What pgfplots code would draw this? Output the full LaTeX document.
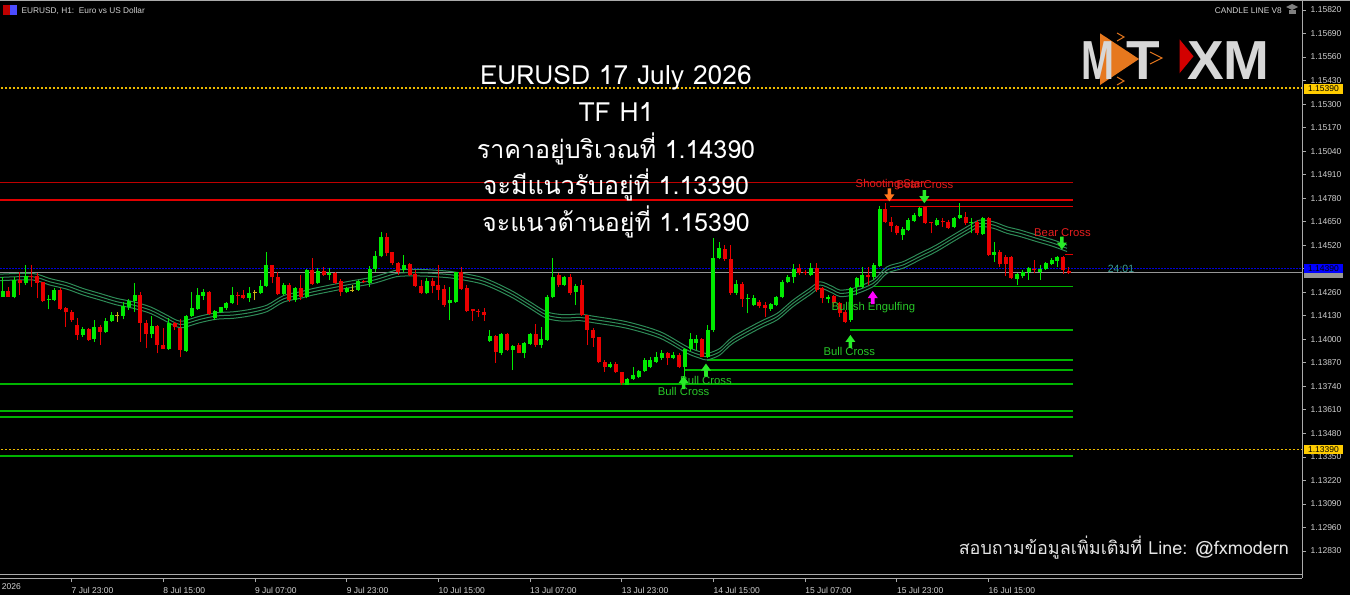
\documentclass[border=0pt]{standalone}
\usepackage{fontspec}
\setmainfont{Liberation Sans}
\newfontfamily\thaifont[Script=Thai]{Loma}
\usepackage{pgfplots}
\usepackage{pgfplotstable}
\pgfplotsset{compat=1.18}

\definecolor{bull}{RGB}{0,235,0}
\definecolor{bear}{RGB}{235,0,0}
\definecolor{doji}{RGB}{205,180,20}
\definecolor{ribbon}{RGB}{46,139,87}
\definecolor{lvlgreen}{RGB}{0,180,0}
\definecolor{lvlred}{RGB}{225,0,0}
\definecolor{lvlred2}{RGB}{190,0,0}
\definecolor{dotyel}{RGB}{235,185,0}
\definecolor{dotblue}{RGB}{0,0,220}
\definecolor{bidgray}{RGB}{150,150,150}
\definecolor{axisgray}{RGB}{170,170,170}
\definecolor{labelgray}{RGB}{210,210,210}
\definecolor{sigtxtgreen}{RGB}{40,200,40}
\definecolor{sigtxtred}{RGB}{230,30,30}
\definecolor{sigarrow}{RGB}{40,235,40}
\definecolor{sigorange}{RGB}{255,120,30}
\definecolor{sigmagenta}{RGB}{255,0,255}
\definecolor{boxyel}{RGB}{255,204,0}
\definecolor{boxblue}{RGB}{0,0,255}
\definecolor{logogray}{RGB}{215,215,215}
\definecolor{logoorange}{RGB}{230,120,30}
\definecolor{logored}{RGB}{210,0,0}
\definecolor{timer}{RGB}{60,160,150}

\newcommand{\tickfont}{\fontsize{8.5}{9}\selectfont}

% signal arrows
\pgfdeclareplotmark{dnarrow}{%
  \pgfpathmoveto{\pgfqpoint{-1.8pt}{6.5pt}}%
  \pgfpathlineto{\pgfqpoint{1.8pt}{6.5pt}}%
  \pgfpathlineto{\pgfqpoint{1.8pt}{0.5pt}}%
  \pgfpathlineto{\pgfqpoint{5pt}{0.5pt}}%
  \pgfpathlineto{\pgfqpoint{0pt}{-6.5pt}}%
  \pgfpathlineto{\pgfqpoint{-5pt}{0.5pt}}%
  \pgfpathlineto{\pgfqpoint{-1.8pt}{0.5pt}}%
  \pgfpathclose
  \pgfusepathqfill}
\pgfdeclareplotmark{uparrow}{%
  \pgfpathmoveto{\pgfqpoint{-1.8pt}{-6.5pt}}%
  \pgfpathlineto{\pgfqpoint{1.8pt}{-6.5pt}}%
  \pgfpathlineto{\pgfqpoint{1.8pt}{-0.5pt}}%
  \pgfpathlineto{\pgfqpoint{5pt}{-0.5pt}}%
  \pgfpathlineto{\pgfqpoint{0pt}{6.5pt}}%
  \pgfpathlineto{\pgfqpoint{-5pt}{-0.5pt}}%
  \pgfpathlineto{\pgfqpoint{-1.8pt}{-0.5pt}}%
  \pgfpathclose
  \pgfusepathqfill}

% EURUSD H1 candles: bar index, low, body low, body high, high
\pgfplotstableread{
k lo bl bh hi
-12 1.14236 1.14236 1.14267 1.14346
-10 1.14226 1.14236 1.14328 1.14346
-8 1.14300 1.14309 1.14352 1.14411
-4 1.14166 1.14217 1.14223 1.14245
-3 1.14214 1.14217 1.14272 1.14282
2 1.14015 1.14024 1.14057 1.14070
4 1.13987 1.14000 1.14070 1.14107
6 1.14037 1.14042 1.14103 1.14116
7 1.14097 1.14103 1.14134 1.14153
9 1.14110 1.14129 1.14184 1.14208
10 1.14162 1.14180 1.14212 1.14221
11 1.14153 1.14212 1.14245 1.14309
14 1.14005 1.14029 1.14074 1.14131
17 1.13941 1.13946 1.14092 1.14116
20 1.13932 1.13937 1.14129 1.14134
21 1.14125 1.14129 1.14171 1.14263
22 1.14162 1.14167 1.14245 1.14282
23 1.14217 1.14241 1.14263 1.14276
25 1.14107 1.14116 1.14156 1.14162
26 1.14147 1.14153 1.14177 1.14180
27 1.14162 1.14171 1.14199 1.14208
28 1.14195 1.14199 1.14245 1.14291
31 1.14208 1.14226 1.14254 1.14291
33 1.14250 1.14254 1.14295 1.14328
34 1.14291 1.14295 1.14411 1.14481
37 1.14245 1.14250 1.14300 1.14309
39 1.14208 1.14217 1.14281 1.14291
41 1.14226 1.14232 1.14383 1.14386
43 1.14305 1.14313 1.14379 1.14392
45 1.14327 1.14355 1.14364 1.14392
48 1.14257 1.14263 1.14281 1.14291
50 1.14268 1.14272 1.14322 1.14327
52 1.14291 1.14309 1.14386 1.14405
53 1.14374 1.14386 1.14460 1.14488
54 1.14453 1.14460 1.14567 1.14595
58 1.14374 1.14383 1.14410 1.14466
62 1.14250 1.14254 1.14322 1.14337
66 1.14106 1.14198 1.14217 1.14291
67 1.14202 1.14208 1.14370 1.14374
73 1.13987 1.13992 1.14018 1.14051
75 1.13913 1.13926 1.14029 1.14033
77 1.13830 1.13941 1.13963 1.13968
79 1.13895 1.13926 1.13977 1.13987
80 1.13968 1.13974 1.14029 1.14036
82 1.13950 1.13968 1.13999 1.14066
83 1.13992 1.13996 1.14235 1.14245
84 1.14226 1.14232 1.14346 1.14447
86 1.14294 1.14300 1.14342 1.14350
88 1.14189 1.14263 1.14296 1.14305
94 1.13839 1.13849 1.13863 1.13876
97 1.13747 1.13747 1.13779 1.13784
98 1.13775 1.13779 1.13803 1.13849
99 1.13784 1.13793 1.13826 1.13830
100 1.13821 1.13826 1.13885 1.13895
101 1.13839 1.13849 1.13885 1.13904
102 1.13871 1.13876 1.13900 1.13931
103 1.13885 1.13898 1.13926 1.13941
105 1.13889 1.13898 1.13913 1.13931
107 1.13793 1.13849 1.13944 1.13950
108 1.13937 1.13944 1.13999 1.14033
109 1.13941 1.13981 1.13999 1.14024
111 1.13895 1.13904 1.14051 1.14079
112 1.14042 1.14051 1.14447 1.14558
113 1.14442 1.14447 1.14502 1.14539
116 1.14245 1.14257 1.14305 1.14327
118 1.14143 1.14221 1.14226 1.14250
119 1.14184 1.14189 1.14226 1.14245
122 1.14158 1.14165 1.14195 1.14202
123 1.14184 1.14189 1.14232 1.14239
124 1.14226 1.14232 1.14318 1.14327
125 1.14309 1.14318 1.14346 1.14355
126 1.14309 1.14346 1.14386 1.14416
129 1.14350 1.14355 1.14392 1.14420
132 1.14199 1.14221 1.14235 1.14245
136 1.14098 1.14107 1.14282 1.14291
137 1.14245 1.14291 1.14337 1.14347
138 1.14282 1.14291 1.14356 1.14402
140 1.14328 1.14347 1.14411 1.14420
141 1.14402 1.14406 1.14719 1.14737
145 1.14549 1.14577 1.14608 1.14619
146 1.14601 1.14604 1.14660 1.14669
147 1.14651 1.14656 1.14687 1.14697
148 1.14678 1.14684 1.14724 1.14733
151 1.14627 1.14632 1.14660 1.14669
154 1.14614 1.14619 1.14673 1.14678
155 1.14663 1.14673 1.14687 1.14752
157 1.14586 1.14641 1.14651 1.14669
159 1.14577 1.14582 1.14673 1.14678
161 1.14429 1.14466 1.14485 1.14540
165 1.14301 1.14332 1.14361 1.14365
166 1.14337 1.14350 1.14374 1.14383
167 1.14328 1.14374 1.14393 1.14402
169 1.14328 1.14374 1.14391 1.14411
170 1.14383 1.14387 1.14420 1.14429
171 1.14411 1.14417 1.14439 1.14448
172 1.14402 1.14435 1.14453 1.14461
}\greens

\pgfplotstableread{
k lo bl bh hi
-11 1.14236 1.14236 1.14267 1.14291
-9 1.14245 1.14309 1.14328 1.14374
-7 1.14291 1.14346 1.14352 1.14411
-6 1.14226 1.14313 1.14352 1.14364
-5 1.14208 1.14214 1.14319 1.14319
-2 1.14162 1.14166 1.14272 1.14282
-1 1.14070 1.14149 1.14171 1.14180
0 1.14097 1.14107 1.14153 1.14162
1 1.13996 1.14024 1.14079 1.14116
3 1.13991 1.13996 1.14057 1.14064
5 1.13969 1.14042 1.14070 1.14079
12 1.13987 1.14092 1.14245 1.14263
13 1.13950 1.14029 1.14092 1.14107
15 1.13922 1.13969 1.14074 1.14079
16 1.13946 1.13946 1.13969 1.14061
18 1.14051 1.14066 1.14088 1.14097
19 1.13900 1.13941 1.14064 1.14110
24 1.14134 1.14140 1.14263 1.14267
29 1.14190 1.14241 1.14245 1.14263
30 1.14221 1.14226 1.14245 1.14272
35 1.14309 1.14342 1.14411 1.14411
36 1.14245 1.14250 1.14342 1.14374
38 1.14208 1.14217 1.14300 1.14309
40 1.14217 1.14235 1.14281 1.14355
42 1.14300 1.14305 1.14383 1.14447
44 1.14350 1.14355 1.14379 1.14401
46 1.14305 1.14313 1.14364 1.14374
47 1.14239 1.14263 1.14322 1.14331
51 1.14309 1.14316 1.14322 1.14327
55 1.14460 1.14475 1.14567 1.14585
56 1.14410 1.14420 1.14480 1.14484
57 1.14355 1.14374 1.14420 1.14429
59 1.14350 1.14355 1.14414 1.14420
60 1.14291 1.14294 1.14361 1.14383
61 1.14250 1.14254 1.14294 1.14327
63 1.14254 1.14294 1.14322 1.14337
64 1.14217 1.14272 1.14300 1.14410
65 1.14180 1.14189 1.14278 1.14300
68 1.14272 1.14278 1.14370 1.14401
69 1.14152 1.14158 1.14285 1.14300
70 1.14103 1.14154 1.14165 1.14165
71 1.14125 1.14151 1.14158 1.14165
72 1.14103 1.14134 1.14149 1.14171
74 1.13871 1.13931 1.14018 1.14024
76 1.13937 1.13941 1.14029 1.14033
78 1.13922 1.13926 1.13968 1.13977
81 1.13959 1.13968 1.14029 1.14082
85 1.14291 1.14300 1.14355 1.14364
87 1.14245 1.14254 1.14346 1.14361
89 1.14130 1.14134 1.14300 1.14327
90 1.13968 1.14051 1.14134 1.14134
91 1.13959 1.14005 1.14051 1.14060
92 1.13867 1.13876 1.14011 1.14014
93 1.13821 1.13849 1.13876 1.13885
95 1.13815 1.13821 1.13863 1.13876
96 1.13747 1.13756 1.13821 1.13821
104 1.13858 1.13895 1.13926 1.13931
106 1.13839 1.13849 1.13913 1.13922
110 1.13900 1.13904 1.13999 1.14005
114 1.14434 1.14442 1.14497 1.14521
115 1.14245 1.14257 1.14442 1.14521
117 1.14180 1.14221 1.14305 1.14318
120 1.14171 1.14184 1.14208 1.14217
121 1.14125 1.14171 1.14189 1.14208
127 1.14355 1.14364 1.14392 1.14416
128 1.14355 1.14364 1.14374 1.14383
130 1.14263 1.14272 1.14392 1.14423
131 1.14199 1.14226 1.14281 1.14291
133 1.14181 1.14199 1.14240 1.14245
134 1.14126 1.14144 1.14199 1.14208
135 1.14089 1.14098 1.14153 1.14162
139 1.14301 1.14343 1.14356 1.14402
142 1.14645 1.14651 1.14719 1.14752
143 1.14595 1.14627 1.14651 1.14678
144 1.14577 1.14586 1.14627 1.14632
149 1.14638 1.14641 1.14730 1.14737
150 1.14586 1.14641 1.14647 1.14651
152 1.14623 1.14647 1.14656 1.14669
153 1.14610 1.14614 1.14651 1.14660
156 1.14632 1.14641 1.14678 1.14706
158 1.14577 1.14586 1.14651 1.14660
160 1.14461 1.14466 1.14673 1.14678
162 1.14402 1.14417 1.14485 1.14494
163 1.14350 1.14417 1.14453 1.14466
164 1.14334 1.14337 1.14453 1.14461
168 1.14365 1.14383 1.14387 1.14439
173 1.14361 1.14383 1.14457 1.14461
174 1.14361 1.14369 1.14380 1.14402
}\reds

\pgfplotstableread{
k lo bl bh hi
8 1.14097 1.14133 1.14137 1.14149
32 1.14217 1.14258 1.14262 1.14272
49 1.14263 1.14271 1.14275 1.14300
}\dojis

% moving average ribbon: upper, middle, lower
\pgfplotstableread{
k u m l
-12.5 1.14360 1.14342 1.14324
-6.8 1.14364 1.14346 1.14328
-3.8 1.14336 1.14318 1.14300
-0.8 1.14313 1.14295 1.14277
2.0 1.14281 1.14263 1.14245
4.9 1.14254 1.14236 1.14218
7.9 1.14226 1.14208 1.14190
10.7 1.14208 1.14190 1.14172
13.7 1.14180 1.14162 1.14144
16.6 1.14134 1.14116 1.14098
18.3 1.14106 1.14088 1.14070
19.5 1.14101 1.14083 1.14065
22.4 1.14128 1.14110 1.14092
25.3 1.14147 1.14129 1.14111
28.2 1.14152 1.14134 1.14116
31.1 1.14165 1.14147 1.14129
34.1 1.14189 1.14171 1.14153
37.0 1.14242 1.14224 1.14206
40.0 1.14263 1.14245 1.14227
42.2 1.14281 1.14263 1.14245
48.0 1.14318 1.14300 1.14282
52.7 1.14345 1.14327 1.14309
56.7 1.14382 1.14364 1.14346
59.7 1.14386 1.14368 1.14350
62.5 1.14384 1.14366 1.14348
66.6 1.14373 1.14355 1.14337
71.3 1.14345 1.14327 1.14309
74.2 1.14309 1.14291 1.14273
77.1 1.14263 1.14245 1.14227
80.0 1.14207 1.14189 1.14171
82.9 1.14152 1.14134 1.14116
85.8 1.14136 1.14118 1.14100
88.7 1.14139 1.14121 1.14103
91.0 1.14128 1.14110 1.14092
96.9 1.14097 1.14079 1.14061
102.7 1.14042 1.14024 1.14006
107.4 1.13959 1.13941 1.13923
109.7 1.13931 1.13913 1.13895
110.9 1.13922 1.13904 1.13886
113.1 1.13949 1.13931 1.13913
115.4 1.14014 1.13996 1.13978
120.1 1.14097 1.14079 1.14061
123.1 1.14143 1.14125 1.14107
125.9 1.14217 1.14199 1.14181
128.8 1.14281 1.14263 1.14245
130.6 1.14318 1.14300 1.14282
132.9 1.14290 1.14272 1.14254
134.1 1.14272 1.14254 1.14236
136.4 1.14282 1.14264 1.14246
139.9 1.14328 1.14310 1.14292
142.3 1.14401 1.14383 1.14365
145.1 1.14429 1.14411 1.14393
148.0 1.14475 1.14457 1.14439
150.9 1.14521 1.14503 1.14485
153.8 1.14576 1.14558 1.14540
156.8 1.14632 1.14614 1.14596
158.5 1.14659 1.14641 1.14623
160.8 1.14650 1.14632 1.14614
163.2 1.14622 1.14604 1.14586
165.5 1.14604 1.14586 1.14568
168.4 1.14576 1.14558 1.14540
171.3 1.14549 1.14531 1.14513
173.7 1.14521 1.14503 1.14485
}\ribbon

% wicks and bodies of one colour
\newcommand{\candles}[2]{%
  \addplot[draw=none, mark=none, forget plot,
    error bars/.cd, y dir=plus, y explicit, error mark=none,
    error bar style={draw=#2, line width=1pt}]
    table[x=k, y=lo, y error plus expr=\thisrow{hi}-\thisrow{lo}] {#1};
  \addplot[draw=none, mark=none, forget plot,
    error bars/.cd, y dir=plus, y explicit, error mark=none,
    error bar style={draw=#2, line width=4pt}]
    table[x=k, y=bl, y error plus expr=\thisrow{bh}-\thisrow{bl}] {#1};
}

\begin{document}
\begin{tikzpicture}
\fill[black] (0pt,0pt) rectangle (1350pt,595pt);
\useasboundingbox (0pt,0pt) rectangle (1350pt,595pt);

\begin{axis}[
  at={(0pt,17pt)}, anchor=south west,
  scale only axis, width=1302pt, height=578pt,
  xmin=-12.48, xmax=214.7,
  ymin=1.126808, ymax=1.158753,
  enlargelimits=false,
  axis x line=bottom, axis y line=right,
  axis line style={draw=axisgray, line width=1pt, -},
  tick align=outside, major tick length=4pt,
  tick style={draw=axisgray, line width=0.8pt},
  minor tick num=0,
  xtick={0,16,32,48,64,80,96,112,128,144,160},
  xticklabels={7 Jul 23:00, 8 Jul 15:00, 9 Jul 07:00, 9 Jul 23:00, 10 Jul 15:00,
    13 Jul 07:00, 13 Jul 23:00, 14 Jul 15:00, 15 Jul 07:00, 15 Jul 23:00, 16 Jul 15:00},
  ytick={1.1283,1.1296,1.1309,1.1322,1.1335,1.1348,1.1361,1.1374,1.1387,1.1400,1.1413,1.1426,
    1.1439,1.1452,1.1465,1.1478,1.1491,1.1504,1.1517,1.1530,1.1543,1.1556,1.1569,1.1582},
  yticklabels={1.12830,1.12960,1.13090,1.13220,1.13350,1.13480,1.13610,1.13740,1.13870,1.14000,
    1.14130,1.14260,1.14390,1.14520,1.14650,1.14780,1.14910,1.15040,1.15170,1.15300,1.15430,
    1.15560,1.15690,1.15820},
  scaled y ticks=false,
  xticklabel style={anchor=north west, inner sep=0pt, font=\tickfont, text=labelgray},
  yticklabel style={anchor=west, inner sep=0pt, font=\tickfont, text=labelgray},
  xticklabel shift=5pt, yticklabel shift=4.5pt,
]

% levels
\addplot[dotyel, line width=1.4pt, dash pattern=on 2pt off 2pt] coordinates {(-13,1.15390) (216,1.15390)};
\addplot[dotyel, line width=1.4pt, dash pattern=on 2pt off 2pt] coordinates {(-13,1.13390) (216,1.13390)};
\addplot[bidgray, line width=1pt] coordinates {(-13,1.14368) (216,1.14368)};
\addplot[dotblue, line width=1pt, dash pattern=on 1.5pt off 1.5pt] coordinates {(-13,1.14390) (216,1.14390)};

\addplot[lvlred2, line width=1pt] coordinates {(-13,1.14864) (174.8,1.14864)};
\addplot[lvlred, line width=1.3pt] coordinates {(-13,1.14770) (174.8,1.14770)};
\addplot[lvlred, line width=1.3pt] coordinates {(142.8,1.14733) (174.8,1.14733)};
\addplot[lvlred, line width=1.3pt] coordinates {(173.4,1.14470) (174.8,1.14470)};

\addplot[lvlgreen, line width=1.3pt] coordinates {(140,1.14291) (174.8,1.14291)};
\addplot[lvlgreen, line width=1.3pt] coordinates {(135.8,1.14051) (174.8,1.14051)};
\addplot[lvlgreen, line width=1.3pt] coordinates {(110.8,1.13886) (174.8,1.13886)};
\addplot[lvlgreen, line width=1.3pt] coordinates {(107,1.13830) (174.8,1.13830)};
\addplot[lvlgreen, line width=1.3pt] coordinates {(-13,1.13753) (174.8,1.13753)};
\addplot[lvlgreen, line width=1.3pt] coordinates {(-13,1.13604) (174.8,1.13604)};
\addplot[lvlgreen, line width=1.3pt] coordinates {(-13,1.13571) (174.8,1.13571)};
\addplot[lvlgreen, line width=1.3pt] coordinates {(-13,1.13355) (174.8,1.13355)};

% ribbon
\addplot[ribbon, line width=1pt, smooth] table[x=k, y=u] {\ribbon};
\addplot[ribbon, line width=1pt, smooth] table[x=k, y=m] {\ribbon};
\addplot[ribbon, line width=1pt, smooth] table[x=k, y=l] {\ribbon};

% candles
\candles{\greens}{bull}
\candles{\reds}{bear}
\candles{\dojis}{doji}

% signals
\addplot[only marks, mark=dnarrow, mark options={fill=sigorange, draw=none}] coordinates {(142.7,1.14798)};
\addplot[only marks, mark=dnarrow, mark options={fill=sigarrow, draw=none}] coordinates {(148.8,1.14788) (172.8,1.14532)};
\addplot[only marks, mark=uparrow, mark options={fill=sigmagenta, draw=none}] coordinates {(139.8,1.14231)};
\addplot[only marks, mark=uparrow, mark options={fill=sigarrow, draw=none}] coordinates {(135.9,1.13988) (110.7,1.13830) (106.8,1.13761)};

\begin{scope}[every node/.style={inner sep=0pt, font=\fontsize{11.3}{12}\selectfont}]
\node[text=sigtxtred] at (axis cs:142.8,1.14853) {Shooting Star};
\node[text=sigtxtred] at (axis cs:148.9,1.14853) {Bear Cross};
\node[text=sigtxtred] at (axis cs:172.9,1.14588) {Bear Cross};
\node[text=sigtxtgreen] at (axis cs:139.9,1.14177) {Bullish Engulfing};
\node[text=sigtxtgreen] at (axis cs:135.7,1.13935) {Bull Cross};
\node[text=sigtxtgreen] at (axis cs:110.7,1.13775) {Bull Cross};
\node[text=sigtxtgreen] at (axis cs:106.8,1.13714) {Bull Cross};
\end{scope}
\end{axis}

% window frame bits
\draw[axisgray, line width=1pt] (0pt,594.5pt) -- (1350pt,594.5pt);
\draw[axisgray, line width=1pt] (0pt,21pt) -- (1302pt,21pt);
\node[anchor=north east, inner sep=0pt, font=\tickfont, text=labelgray] at (21pt,12pt) {7 Jul 2026};

% price boxes
\fill[boxyel] (1304pt,501.3pt) rectangle (1343pt,510.7pt);
\node[inner sep=0pt, font=\tickfont, text=black] at (1323.5pt,506pt) {1.15390};
\fill[bidgray] (1304pt,317pt) rectangle (1343pt,322.5pt);
\fill[boxblue] (1304pt,322.3pt) rectangle (1343pt,331pt);
\node[inner sep=0pt, font=\tickfont, text=black] at (1323.5pt,326.6pt) {1.14390};
\fill[boxyel] (1304pt,141pt) rectangle (1343pt,150.3pt);
\node[inner sep=0pt, font=\tickfont, text=black] at (1323.5pt,145.6pt) {1.13390};
\node[inner sep=0pt, font=\fontsize{10.5}{11}\selectfont, text=timer] at (1121pt,326pt) {24:01};

% header
\fill[red!75!black] (3pt,580pt) rectangle (10pt,590pt);
\fill[blue!70!white] (10pt,580pt) rectangle (17pt,590pt);
\node[anchor=west, inner sep=0pt, font=\fontsize{8.3}{9}\selectfont, text=labelgray] at (21.5pt,584.3pt) {EURUSD, H1:\ \ Euro vs US Dollar};
\node[anchor=east, inner sep=0pt, font=\fontsize{8.3}{9}\selectfont, text=labelgray] at (1282pt,584.3pt) {CANDLE LINE V8};
\fill[gray] (1286pt,588pt) -- (1292pt,591pt) -- (1298pt,588pt) -- (1292pt,585pt) -- cycle;
\fill[gray] (1288.5pt,585pt) rectangle (1295.5pt,581pt);

% logo
\fill[logoorange] (1100pt,561.7pt) -- (1139pt,536pt) -- (1100pt,510pt) -- cycle;
\draw[logoorange, line width=1pt] (1117pt,562pt) -- (1124pt,558pt) -- (1117pt,554pt);
\draw[logoorange, line width=1pt] (1150pt,543pt) -- (1162pt,537pt) -- (1150pt,531pt);
\draw[logoorange, line width=1pt] (1117pt,518pt) -- (1124pt,514pt) -- (1117pt,510pt);
\node[anchor=south west, inner sep=0pt, font=\fontsize{55}{55}\selectfont\bfseries, text=logogray] at (1081pt,515pt) {\scalebox{0.72}[1]{M}};
\node[anchor=south west, inner sep=0pt, font=\fontsize{55}{55}\selectfont\bfseries, text=logogray] at (1126pt,515pt) {T};
\fill[logored] (1179.5pt,555.7pt) -- (1193.5pt,538.7pt) -- (1179.5pt,521.7pt) -- cycle;
\node[anchor=south west, inner sep=0pt, font=\fontsize{55}{55}\selectfont\bfseries, text=logogray] at (1187pt,515pt) {XM};

% overlay text
\begin{scope}[every node/.style={anchor=base, inner sep=0pt, text=white}]
\node[font=\thaifont\fontsize{26.4}{27}\selectfont] at (616pt,510.7pt) {EURUSD 17 July 2026};
\node[font=\thaifont\fontsize{26.4}{27}\selectfont] at (616pt,473.3pt) {TF H1};
\node[font=\thaifont\fontsize{25}{26}\selectfont] at (616pt,436pt) {ราคาอยู่บริเวณที่ 1.14390};
\node[font=\thaifont\fontsize{25}{26}\selectfont] at (616pt,400pt) {จะมีแนวรับอยู่ที่ 1.13390};
\node[font=\thaifont\fontsize{25}{26}\selectfont] at (616pt,363.3pt) {จะแนวต้านอยู่ที่ 1.15390};
\end{scope}
\node[anchor=base east, inner sep=0pt, text=white!90!black, font=\thaifont\fontsize{18}{18}\selectfont] at (1289pt,40.7pt) {สอบถามข้อมูลเพิ่มเติมที่ Line: @fxmodern};
\end{tikzpicture}
\end{document}
